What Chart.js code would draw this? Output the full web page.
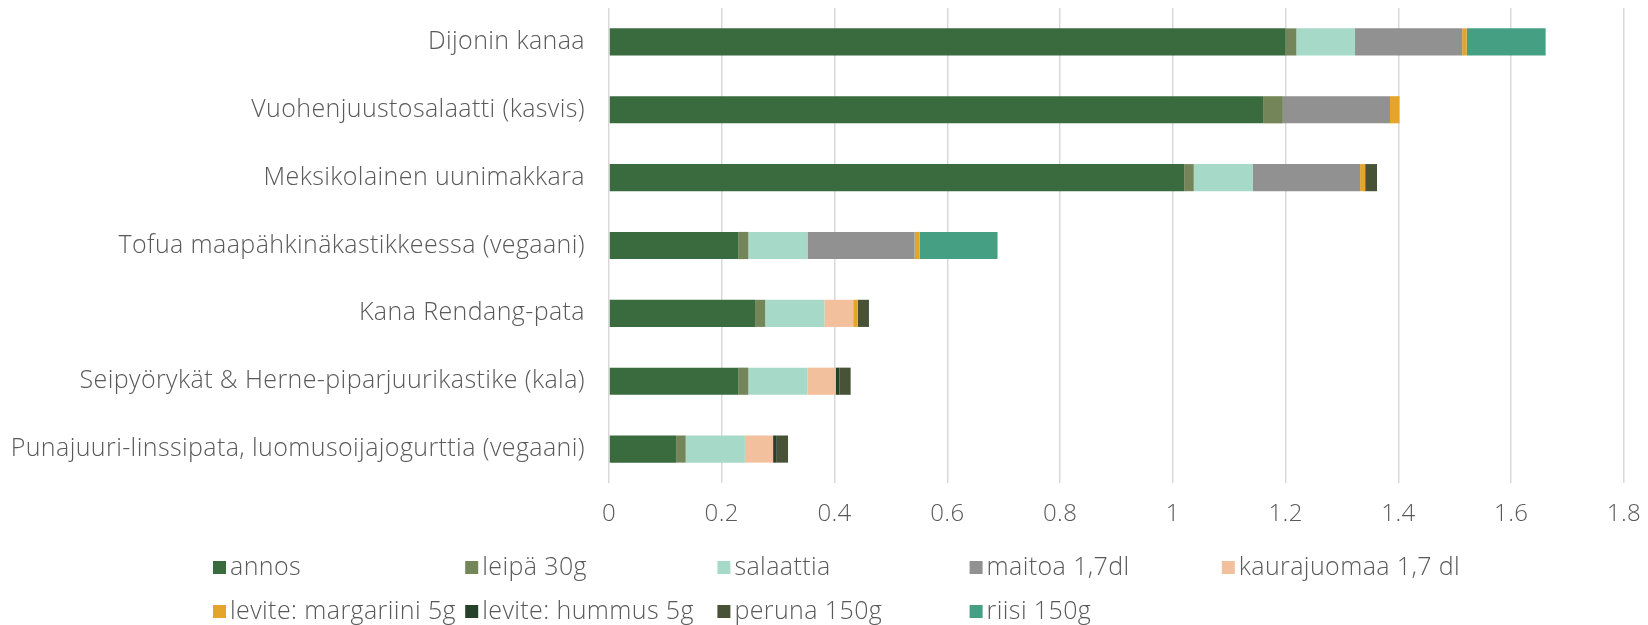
<!DOCTYPE html>
<html>
<head>
    <meta charset="utf-8">
    <style>
        body {
            margin: 0;
            padding: 0;
            background: #ffffff;
        }
    </style>
    <title>Annokset</title>
    <script src="https://cdn.jsdelivr.net/npm/chart.js@4.4.1/dist/chart.umd.min.js"></script>
</head>
<body>
  <canvas id="chart" width="1648" height="625"></canvas>

  <script>
    const categories = [
      'Dijonin kanaa',
      'Vuohenjuustosalaatti (kasvis)',
      'Meksikolainen uunimakkara',
      'Tofua maapähkinäkastikkeessa (vegaani)',
      'Kana Rendang-pata',
      'Seipyörykät & Herne-piparjuurikastike (kala)',
      'Punajuuri-linssipata, luomusoijajogurttia (vegaani)'
    ];

    const annos       = [1.20, 1.16, 1.02, 0.229, 0.259, 0.229, 0.119];
    const leipa       = [0.019, 0.035, 0.017, 0.018, 0.018, 0.018, 0.017];
    const salaattia   = [0.104, null, 0.105, 0.105, 0.105, 0.105, 0.105];
    const maitoa      = [0.19, 0.19, 0.19, 0.19, null, null, null];
    const kaurajuomaa = [null, null, null, null, 0.051, 0.05, 0.05];
    const margariini  = [0.008, 0.017, 0.009, 0.009, 0.008, null, null];
    const hummus      = [null, null, null, null, null, 0.0065, 0.0065];
    const peruna      = [null, null, 0.021, null, 0.02, 0.02, 0.02];
    const riisi       = [0.14, null, null, 0.138, null, null, null];

    const seriesNames = ['annos', 'leipä 30g', 'salaattia', 'maitoa 1,7dl', 'kaurajuomaa 1,7 dl',
      'levite: margariini 5g', 'levite: hummus 5g', 'peruna 150g', 'riisi 150g'];
    const seriesData = [annos, leipa, salaattia, maitoa, kaurajuomaa, margariini, hummus, peruna, riisi];
    const seriesColors = ['#3a6b3f', '#748559', '#a7d9c9', '#919191', '#f2c09c',
      '#e4a52a', '#26412a', '#475237', '#449f83'];

    const xTickLabels = ['0', '0.2', '0.4', '0.6', '0.8', '1', '1.2', '1.4', '1.6', '1.8'];

    const textColor = '#595959';
    const fontFamily = "'Open Sans', sans-serif";
    const fontSize = 25;
    const tickFontSize = 24;
    const fontWeight = 300;

    // slightly wider text, the original font is a wide one
    const spacing = {
      id: 'spacing',
      beforeDraw(chart) {
        chart.ctx.letterSpacing = '0.4px';
      }
    };

    // legend laid out in fixed columns like the original
    const gridLegend = {
      id: 'gridLegend',
      afterDraw(chart) {
        const c = chart.ctx;
        c.save();
        c.letterSpacing = '0.4px';
        c.font = fontWeight + ' ' + fontSize + 'px ' + fontFamily;
        c.textBaseline = 'middle';
        c.textAlign = 'left';
        chart.data.datasets.forEach((ds, i) => {
          const col = i % 5;
          const row = Math.floor(i / 5);
          const x = 213 + col * 252.2;
          const y = 568 + row * 44;
          c.fillStyle = ds.backgroundColor;
          c.fillRect(x, y - 7, 13, 13);
          c.fillStyle = textColor;
          c.fillText(ds.label, x + 17, y);
        });
        c.restore();
      }
    };

    const ctx = document.getElementById('chart').getContext('2d');
    new Chart(ctx, {
      type: 'bar',
      data: {
        labels: categories,
        datasets: seriesData.map((d, i) => ({
          label: seriesNames[i],
          data: d,
          backgroundColor: seriesColors[i],
          borderWidth: 0,
          barPercentage: 0.4,
          categoryPercentage: 1
        }))
      },
      options: {
        indexAxis: 'y',
        responsive: false,
        animation: false,
        layout: {
          padding: { top: 8, right: 24, bottom: 96, left: 0 }
        },
        plugins: {
          legend: { display: false },
          tooltip: { enabled: false }
        },
        scales: {
          x: {
            stacked: true,
            min: 0,
            max: 1.8,
            ticks: {
              stepSize: 0.2,
              padding: 17,
              color: textColor,
              font: { family: fontFamily, size: tickFontSize, weight: fontWeight },
              callback: (v, i) => xTickLabels[i]
            },
            grid: { color: '#d9d9d9', lineWidth: 1.5, drawTicks: false },
            border: { display: false },
            afterFit: s => {
              s.height = 46;
              s.paddingLeft = 0;
              s.paddingRight = 0;
            }
          },
          y: {
            stacked: true,
            ticks: {
              padding: 24,
              color: textColor,
              font: { family: fontFamily, size: fontSize, weight: fontWeight }
            },
            grid: { display: false, drawTicks: false },
            border: { display: false },
            afterFit: s => {
              s.width = 609;
              s.paddingTop = 0;
              s.paddingBottom = 0;
            }
          }
        }
      },
      plugins: [spacing, gridLegend]
    });
  </script>
</body>
</html>
